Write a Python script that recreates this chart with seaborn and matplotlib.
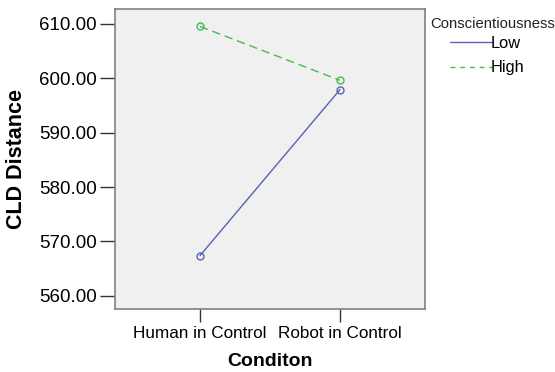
import matplotlib
matplotlib.use("Agg")
import matplotlib.pyplot as plt
from matplotlib.lines import Line2D
import seaborn as sns
import pandas as pd

conditions = ["Human in Control", "Robot in Control"]
low_values = [567.4, 597.9]
high_values = [609.5, 599.6]
groups = ["Low", "High"]
yticks = [560, 570, 580, 590, 600, 610]

df = pd.DataFrame({
    "Conditon": conditions * 2,
    "CLD Distance": low_values + high_values,
    "Conscientiousness": [groups[0]] * 2 + [groups[1]] * 2,
})

sns.set_style("white")
plt.rcParams["font.family"] = ["Liberation Sans", "DejaVu Sans"]

colors = {"Low": "#5763b0", "High": "#45bb52"}

fig = plt.figure(figsize=(5.55, 3.72), dpi=100)
ax = fig.add_axes([115/555, 1-309/372, 310/555, 300/372])
ax.set_facecolor("#f0f0f0")

sns.lineplot(data=df, x="Conditon", y="CLD Distance", hue="Conscientiousness",
             style="Conscientiousness", hue_order=groups, style_order=groups,
             palette=colors, markers={"Low": "o", "High": "o"},
             dashes={"Low": "", "High": (6, 3.5)}, linewidth=1.0,
             markersize=5, legend=False, ax=ax)
for ln in ax.lines:
    ln.set_markerfacecolor("none")
    ln.set_markeredgecolor(ln.get_color())
    ln.set_markeredgewidth(1.0)

ax.set_xlim(-0.607, 1.607)
ax.set_ylim(557.6, 612.7)
ax.set_yticks(yticks)
ax.set_yticklabels([f"{v:.2f}" for v in yticks])
ax.tick_params(axis="y", direction="out", length=11, width=1, color="#333333",
               labelsize=13.5, pad=2, left=True, labelcolor="black")
ax.tick_params(axis="x", direction="out", length=9.5, width=1, color="#333333",
               labelsize=12.3, pad=3, bottom=True, labelcolor="black")
for s in ax.spines.values():
    s.set_color("#808080")
    s.set_linewidth(1.2)

ax.set_xlabel("Conditon", fontsize=14, fontweight="bold", color="black")
ax.set_ylabel("CLD Distance", fontsize=15.5, fontweight="bold", color="black")
ax.xaxis.set_label_coords(0.5, -0.147)
ax.yaxis.set_label_coords(-0.285, 0.5)

fig.text(430.5/555, 1-24.5/372, "Conscientiousness", fontsize=10.7,
         ha="left", va="center", color="#222222")
handles = [Line2D([], [], color=colors["Low"], lw=1.0),
           Line2D([], [], color=colors["High"], lw=1.0, dashes=(3.5, 3.5))]
leg = fig.legend(handles, groups, loc="upper left",
                 bbox_to_anchor=(450/555, 1-35.5/372), frameon=False,
                 fontsize=11.8, handlelength=2.55,
                 handletextpad=-0.05, labelspacing=0.6, borderaxespad=0,
                 borderpad=0)
for t in leg.get_texts():
    t.set_color("black")

fig.savefig("out.png", dpi=100)
